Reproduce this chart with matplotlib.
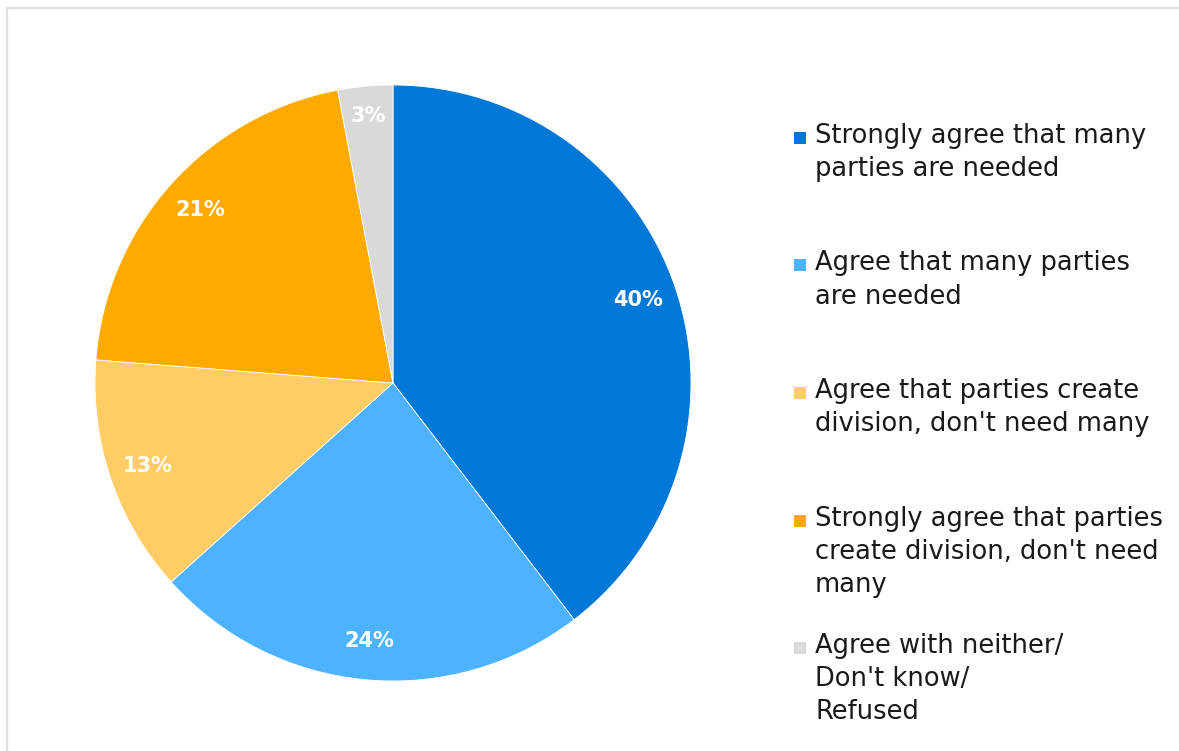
import matplotlib
matplotlib.use("Agg")
import matplotlib.pyplot as plt
from matplotlib.patches import Rectangle
from matplotlib.lines import Line2D
import numpy as np

## data
labels = ["Strongly agree that many\nparties are needed",
          "Agree that many parties\nare needed",
          "Agree that parties create\ndivision, don't need many",
          "Strongly agree that parties\ncreate division, don't need\nmany",
          "Agree with neither/\nDon't know/\nRefused"]
values = [40, 24, 13, 21, 3]
colors = ["#0078D7", "#4DB2FF", "#FFCC66", "#FFAA00", "#D9D9D9"]

W, H = 1179, 751
fig = plt.figure(figsize=(W / 100, H / 100), dpi=100)
fig.patch.set_facecolor("white")

# pie axes: center (393, 383) px, radius 298 px
cx, cy, r = 393, 383, 298
ax = fig.add_axes([(cx - r) / W, (H - cy - r) / H, 2 * r / W, 2 * r / H])
wedges, _ = ax.pie(values, colors=colors, startangle=90, counterclock=False,
                   radius=1, wedgeprops=dict(edgecolor="white", linewidth=0.6))
ax.set_xlim(-1, 1)
ax.set_ylim(-1, 1)
ax.set_aspect("equal")
ax.axis("off")

# percent labels
for w, v in zip(wedges, values):
    th = np.deg2rad((w.theta1 + w.theta2) / 2)
    d = 0.9 if v < 5 else 0.87
    ax.text(d * np.cos(th), d * np.sin(th), "%d%%" % v, color="white",
            fontsize=15, fontweight="bold", ha="center", va="center")

# legend, placed by hand
y0 = 138
step = 127.5
for i, (lab, c) in enumerate(zip(labels, colors)):
    y = y0 + i * step
    fig.patches.append(Rectangle((794 / W, 1 - (y + 6) / H), 12 / W, 12 / H,
                                 transform=fig.transFigure, facecolor=c,
                                 edgecolor="none"))
    fig.text(815 / W, 1 - (y - 15) / H, lab, fontsize=18.5, color="#1a1a1a",
             ha="left", va="top", linespacing=1.35)

# frame lines (top and left only)
fig.add_artist(Line2D([7 / W, 1], [1 - 7.5 / H, 1 - 7.5 / H],
                      transform=fig.transFigure, color="#E0E0E0", linewidth=1.6))
fig.add_artist(Line2D([7 / W, 7 / W], [0, 1 - 7.5 / H],
                      transform=fig.transFigure, color="#E0E0E0", linewidth=1.6))

fig.savefig("out.png", dpi=100)
